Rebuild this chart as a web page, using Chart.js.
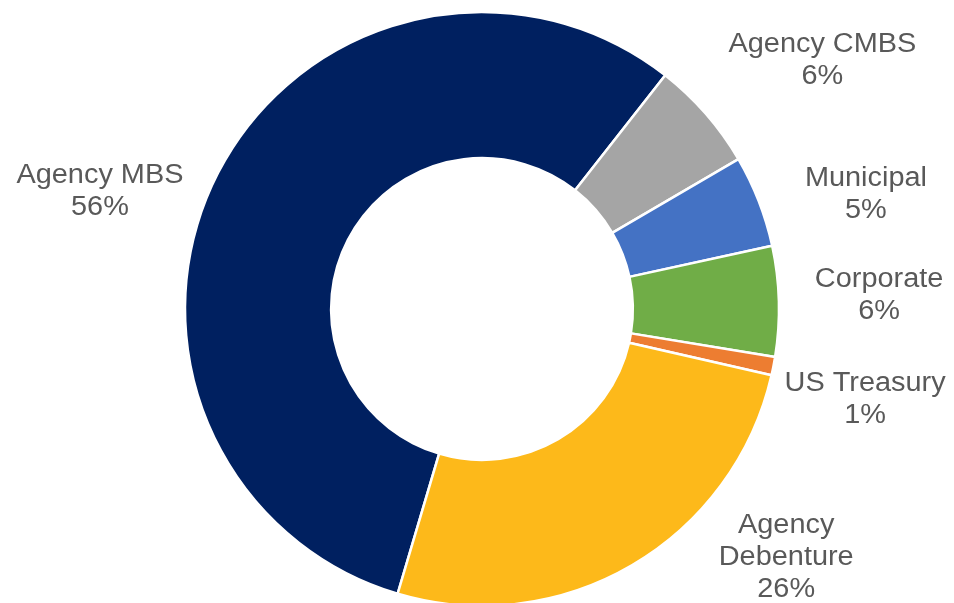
<!DOCTYPE html>
<html>
<head>
<meta charset="utf-8">
<script src="https://cdn.jsdelivr.net/npm/chart.js@4/dist/chart.umd.min.js"></script>
<style>
  html, body { margin: 0; padding: 0; background: #ffffff; }
  #wrap { width: 954px; height: 603px; position: relative; }
</style>
</head>
<body>
<div id="wrap"><canvas id="chart"></canvas></div>
<script>
// Portfolio allocation by sector (percent of total)
const categories = ['Agency MBS', 'Agency CMBS', 'Municipal', 'Corporate', 'US Treasury', 'Agency\nDebenture'];
const shares = [56, 6, 5, 6, 1, 26];
const sliceColors = ['#002060', '#A5A5A5', '#4472C4', '#70AD47', '#ED7D31', '#FDB91A'];

// Where each label sits: angular offset (deg) from its slice's middle,
// and distance from the centre as a multiple of the outer radius.
const labelLayout = [
  { turn: -9.9, reach: 1.348 },
  { turn: 4.7,  reach: 1.424 },
  { turn: 4.4,  reach: 1.351 },
  { turn: -0.8, reach: 1.338 },
  { turn: 1.9,  reach: 1.324 },
  { turn: -20.7, reach: 1.318 }
];

const outsideLabels = {
  id: 'outsideLabels',
  afterDatasetsDraw(chart) {
    const ctx = chart.ctx;
    const meta = chart.getDatasetMeta(0);
    const values = chart.data.datasets[0].data;
    const fontSize = 27;
    const lineGap = 32;
    const capHeight = fontSize * 0.716;
    ctx.save();
    ctx.font = fontSize + 'px "Liberation Sans", Arial, sans-serif';
    ctx.fillStyle = '#595959';
    ctx.textAlign = 'center';
    ctx.textBaseline = 'alphabetic';
    meta.data.forEach((arc, i) => {
      const p = arc.getProps(['x', 'y', 'startAngle', 'endAngle', 'outerRadius'], true);
      const mid = (p.startAngle + p.endAngle) / 2 + labelLayout[i].turn * Math.PI / 180;
      const r = p.outerRadius * labelLayout[i].reach;
      const cx = p.x + Math.cos(mid) * r;
      const cy = p.y + Math.sin(mid) * r;
      const lines = chart.data.labels[i].split('\n').concat([values[i] + '%']);
      const firstBase = cy - (lines.length - 1) * lineGap / 2 + capHeight / 2;
      lines.forEach((t, k) => {
        ctx.save();
        ctx.translate(cx, firstBase + k * lineGap);
        ctx.scale(1.07, 1);
        ctx.fillText(t, 0, 0);
        ctx.restore();
      });
    });
    ctx.restore();
  }
};

new Chart(document.getElementById('chart'), {
  type: 'doughnut',
  data: {
    labels: categories,
    datasets: [{
      data: shares,
      backgroundColor: sliceColors,
      borderColor: '#ffffff',
      borderWidth: 2.5,
      hoverOffset: 0
    }]
  },
  options: {
    responsive: true,
    maintainAspectRatio: false,
    animation: false,
    rotation: 196.5,
    radius: 297,
    cutout: '50.8%',
    layout: { padding: { left: 10, right: 0, top: 15, bottom: 0 } },
    plugins: {
      legend: { display: false },
      tooltip: { enabled: false }
    }
  },
  plugins: [outsideLabels]
});
</script>
</body>
</html>
